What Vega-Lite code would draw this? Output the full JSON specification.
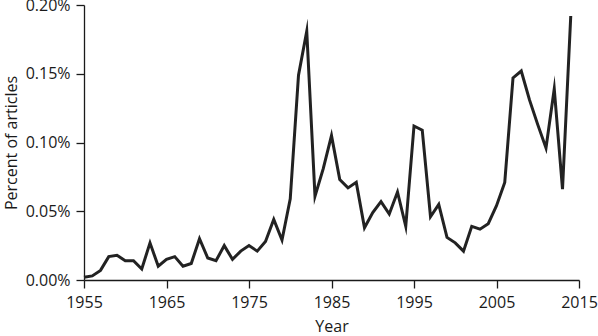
{
  "$schema": "https://vega.github.io/schema/vega-lite/v6.json",
  "width": 495,
  "height": 275,
  "autosize": {"type": "none"},
  "padding": {"left": 84, "top": 5, "right": 19, "bottom": 56},
  "background": "white",
  "config": {
    "view": {"stroke": null},
    "font": "Open Sans",
    "axis": {
      "grid": false,
      "domainColor": "#1a1a1a",
      "tickColor": "#1a1a1a",
      "domainWidth": 1.3,
      "tickWidth": 1.3,
      "tickSize": 8,
      "labelFont": "Open Sans",
      "labelFontSize": 16,
      "labelColor": "#1a1a1a",
      "labelFlush": false,
      "labelOverlap": false,
      "labelBound": false,
      "titleFont": "Open Sans",
      "titleFontSize": 16,
      "titleFontWeight": "normal",
      "titleColor": "#1a1a1a"
    }
  },
  "data": {
    "values": [
      {"year": 1955, "pct": 0.002},
      {"year": 1956, "pct": 0.003},
      {"year": 1957, "pct": 0.007},
      {"year": 1958, "pct": 0.017},
      {"year": 1959, "pct": 0.018},
      {"year": 1960, "pct": 0.014},
      {"year": 1961, "pct": 0.014},
      {"year": 1962, "pct": 0.008},
      {"year": 1963, "pct": 0.027},
      {"year": 1964, "pct": 0.010},
      {"year": 1965, "pct": 0.015},
      {"year": 1966, "pct": 0.017},
      {"year": 1967, "pct": 0.010},
      {"year": 1968, "pct": 0.012},
      {"year": 1969, "pct": 0.030},
      {"year": 1970, "pct": 0.016},
      {"year": 1971, "pct": 0.014},
      {"year": 1972, "pct": 0.025},
      {"year": 1973, "pct": 0.015},
      {"year": 1974, "pct": 0.021},
      {"year": 1975, "pct": 0.025},
      {"year": 1976, "pct": 0.021},
      {"year": 1977, "pct": 0.028},
      {"year": 1978, "pct": 0.044},
      {"year": 1979, "pct": 0.029},
      {"year": 1980, "pct": 0.059},
      {"year": 1981, "pct": 0.149},
      {"year": 1982, "pct": 0.181},
      {"year": 1983, "pct": 0.061},
      {"year": 1984, "pct": 0.081},
      {"year": 1985, "pct": 0.105},
      {"year": 1986, "pct": 0.073},
      {"year": 1987, "pct": 0.067},
      {"year": 1988, "pct": 0.071},
      {"year": 1989, "pct": 0.038},
      {"year": 1990, "pct": 0.049},
      {"year": 1991, "pct": 0.057},
      {"year": 1992, "pct": 0.048},
      {"year": 1993, "pct": 0.064},
      {"year": 1994, "pct": 0.039},
      {"year": 1995, "pct": 0.112},
      {"year": 1996, "pct": 0.109},
      {"year": 1997, "pct": 0.046},
      {"year": 1998, "pct": 0.055},
      {"year": 1999, "pct": 0.031},
      {"year": 2000, "pct": 0.027},
      {"year": 2001, "pct": 0.021},
      {"year": 2002, "pct": 0.039},
      {"year": 2003, "pct": 0.037},
      {"year": 2004, "pct": 0.041},
      {"year": 2005, "pct": 0.054},
      {"year": 2006, "pct": 0.071},
      {"year": 2007, "pct": 0.147},
      {"year": 2008, "pct": 0.152},
      {"year": 2009, "pct": 0.131},
      {"year": 2010, "pct": 0.113},
      {"year": 2011, "pct": 0.096},
      {"year": 2012, "pct": 0.139},
      {"year": 2013, "pct": 0.066},
      {"year": 2014, "pct": 0.192}
    ]
  },
  "mark": {"type": "line", "color": "#222222", "strokeWidth": 3, "strokeJoin": "miter", "strokeMiterLimit": 10},
  "encoding": {
    "x": {
      "field": "year",
      "type": "quantitative",
      "scale": {"domain": [1955, 2015], "nice": false, "zero": false},
      "axis": {"values": [1955, 1965, 1975, 1985, 1995, 2005, 2015], "format": "d", "title": "Year", "labelPadding": 6, "titlePadding": 8}
    },
    "y": {
      "field": "pct",
      "type": "quantitative",
      "scale": {"domain": [0, 0.2], "nice": false},
      "axis": {"values": [0, 0.05, 0.1, 0.15, 0.2], "labelExpr": "format(datum.value, '.2f') + '%'", "title": "Percent of articles", "labelPadding": 6, "titlePadding": 6}
    }
  }
}
